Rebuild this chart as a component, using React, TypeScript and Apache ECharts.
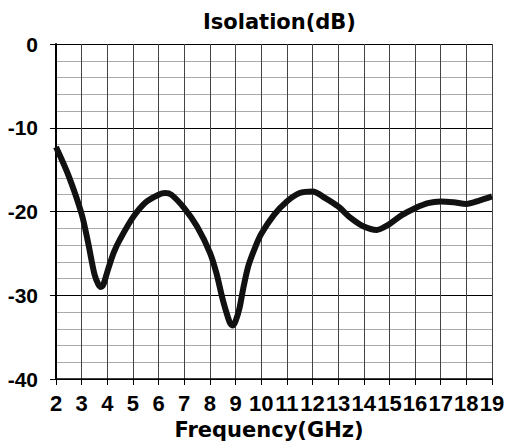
import React, { useEffect, useRef } from "react";
import * as echarts from "echarts";

const freqGHz = [2, 2.5, 3, 3.25, 3.5, 3.65, 3.75, 3.85, 4, 4.25, 4.5, 5, 5.5, 6, 6.25, 6.5, 7, 7.5, 8, 8.25, 8.5, 8.7, 8.8, 8.9, 9, 9.15, 9.3, 9.5, 9.75, 10, 10.5, 11, 11.5, 12, 12.5, 13, 13.5, 14, 14.5, 15, 15.5, 16, 16.5, 17, 17.5, 18, 18.5, 19];
const isolationDb = [-12.3, -15.8, -20.3, -23.7, -27.5, -28.7, -29.0, -28.7, -27.2, -24.9, -23.3, -20.7, -18.9, -18.0, -17.8, -18.0, -19.6, -21.8, -24.9, -27.3, -30.5, -32.6, -33.4, -33.6, -33.1, -31.6, -29.2, -26.5, -24.4, -22.7, -20.4, -18.8, -17.8, -17.6, -18.4, -19.4, -20.8, -21.8, -22.2, -21.5, -20.4, -19.6, -19.0, -18.8, -18.9, -19.1, -18.7, -18.2];

const titleText = "Isolation(dB)";
const xName = "Frequency(GHz)";

export default function App() {
  const ref = useRef<HTMLDivElement>(null);
  useEffect(() => {
    document.body.style.margin = "0";
    const chart = echarts.init(ref.current!, undefined, { renderer: "svg" });
    const data = freqGHz.map((f, i) => [f, isolationDb[i]]);
    chart.setOption({
      animation: false,
      backgroundColor: "#ffffff",
      title: {
        text: titleText,
        left: 198,
        top: 6,
        textStyle: { fontFamily: "DejaVu Sans", fontWeight: "bold", fontSize: 21, color: "#000" },
      },
      grid: { left: 56, right: 16, top: 44, bottom: 69, containLabel: false, outerBoundsMode: "none" },
      xAxis: {
        type: "value",
        min: 2,
        max: 19,
        interval: 1,
        name: xName,
        nameLocation: "middle",
        nameGap: 40,
        nameTextStyle: { fontFamily: "DejaVu Sans", fontWeight: "bold", fontSize: 21, color: "#000", padding: [0, 10, 0, 0] },
        axisLine: { show: true, onZero: false, lineStyle: { color: "#000", width: 1.5 } },
        axisTick: { show: true, length: 6, lineStyle: { color: "#000" } },
        axisLabel: { margin: 13, fontFamily: "Liberation Sans", fontWeight: "bold", fontSize: 22, color: "#000" },
        splitLine: { show: true, lineStyle: { color: "#444", width: 1 } },
      },
      yAxis: {
        type: "value",
        min: -40,
        max: 0,
        interval: 10,
        axisLine: { show: true, onZero: false, lineStyle: { color: "#000", width: 2 } },
        axisTick: { show: true, length: 6, lineStyle: { color: "#000" } },
        axisLabel: { margin: 18, fontFamily: "Liberation Sans", fontWeight: "bold", fontSize: 21, color: "#000" },
        splitLine: { show: true, lineStyle: { color: "#000", width: 1 } },
        minorTick: { show: false, splitNumber: 5 },
        minorSplitLine: { show: true, lineStyle: { color: "#aaa", width: 1 } },
      },
      series: [
        {
          type: "line",
          data,
          smooth: 0.3,
          symbol: "none",
          lineStyle: { color: "#111", width: 6 },
        },
      ],
    });
    return () => chart.dispose();
  }, []);
  return <div ref={ref} style={{ width: 508, height: 448 }} />;
}
